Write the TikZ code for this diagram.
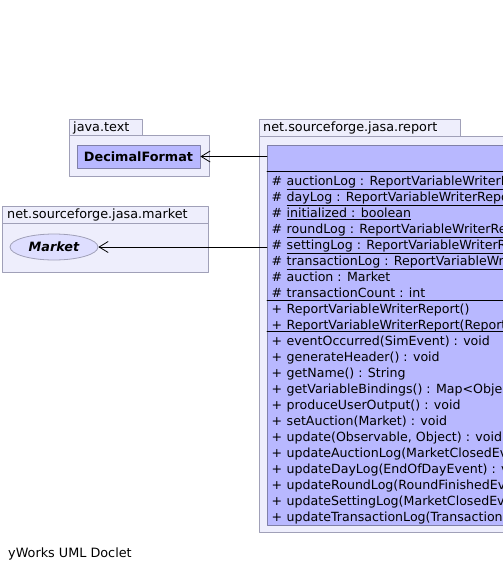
\documentclass[tikz,border=0pt]{standalone}
\usepackage{fontspec}
\setmainfont{DejaVu Sans}
\usetikzlibrary{calc,shapes.geometric,arrows.meta}
\definecolor{pkgfill}{RGB}{238,238,252}
\definecolor{pkgline}{RGB}{160,160,184}
\definecolor{clsfill}{RGB}{184,184,255}
\definecolor{clsline}{RGB}{128,128,168}
\definecolor{ifcfill}{RGB}{222,222,255}
\tikzset{
    lab/.style={
        font=\fontsize{12.8}{16}\selectfont, inner sep=0pt, anchor=base west
    },
    mem/.style={
        lab, font=\fontsize{12.6}{16}\selectfont
    }
}

\begin{document}
\begin{tikzpicture}[x=1pt,y=-1pt, line cap=round, line join=round]

\tikzset{
  pkg/.style={draw=pkgline, fill=pkgfill, line width=0.8pt},
  cls/.style={rectangle, draw=clsline, fill=clsfill, line width=0.8pt, inner sep=0pt},
  ifc/.style={ellipse, draw=pkgline, fill=ifcfill, line width=0.8pt, inner sep=0pt},
  sep/.style={draw=black, line width=0.9pt},
  dep/.style={draw=black, line width=0.9pt, -{Straight Barb[length=9pt,width=11pt,line width=0.8pt]}},
}

% background
\clip (0,0) rectangle (503,571);
\fill[white] (0,0) rectangle (503,571);

% packages
\draw[pkg] (69,119) rectangle (142,135);
\draw[pkg] (69,135) rectangle (209,176);
\node[lab] (javatext) at (73,131.5) {java.text};

\draw[pkg] (2,206) rectangle (208,223);
\draw[pkg] (2,223) rectangle (208,272);
\node[lab] (jasamarket) at (7,218.5) {net.sourceforge.jasa.market};

\draw[pkg] (259,119) rectangle (460,136);
\draw[pkg] (259,136) rectangle (530,532);
\node[lab] (jasareport) at (263,131.5) {net.sourceforge.jasa.report};

% classes
\node[cls, minimum width=123pt, minimum height=23pt, font=\fontsize{12.8}{16}\selectfont\bfseries]
  (dec) at (138.5,156.5) {DecimalFormat};
\node[ifc, minimum width=88pt, minimum height=26pt, font=\fontsize{12.8}{16}\selectfont\bfseries\itshape]
  (market) at (54,247) {Market};
\node[cls, anchor=north west, minimum width=260pt, minimum height=380pt]
  (writer) at (267,145) {};

% compartments
\draw[sep] (writer.west |- 0,171.5) -- ++(260,0);
\draw[sep] (writer.west |- 0,300) -- ++(260,0);
\draw[sep] (writer.west |- 0,331.5) -- ++(260,0);

% fields
\foreach \txt [count=\i] in {
    \underline{auctionLog : ReportVariableWriterRe},
    \underline{dayLog : ReportVariableWriterRepor},
    \underline{initialized : boolean},
    \underline{roundLog : ReportVariableWriterRep},
    \underline{settingLog : ReportVariableWriterRe},
    \underline{transactionLog : ReportVariableWrit},
    auction : Market,
    transactionCount : int}{
  \node[mem] (fvis\i) at (271.5,185.5+16*\i-16) {\#};
  \node[mem] (fld\i) at (286.5,185.5+16*\i-16) {\txt};
}

% constructors
\foreach \txt [count=\i] in {
    ReportVariableWriterReport(),
    ReportVariableWriterReport(Report}{
  \node[mem] (cvis\i) at (271.5,313+16*\i-16) {+};
  \node[mem] (ctor\i) at (286.5,313+16*\i-16) {\txt};
}

% methods
\foreach \txt [count=\i] in {
    eventOccurred(SimEvent) : void,
    generateHeader() : void,
    getName() : String,
    getVariableBindings() : Map<Object,
    produceUserOutput() : void,
    setAuction(Market) : void,
    {update(Observable, Object) : void},
    updateAuctionLog(MarketClosedEve,
    updateDayLog(EndOfDayEvent) : vo,
    updateRoundLog(RoundFinishedEve,
    updateSettingLog(MarketClosedEve,
    updateTransactionLog(Transaction}{
  \node[mem] (mvis\i) at (271.5,345.5+16*\i-16) {+};
  \node[mem] (mth\i) at (286.5,345.5+16*\i-16) {\txt};
}

% dependencies
\draw[dep] (writer.west |- dec.east) -- (dec.east);
\draw[dep] (writer.west |- market.east) -- (market.east);

% footer
\node[lab] (doclet) at (8,557.5) {yWorks UML Doclet};

\end{tikzpicture}
\end{document}
